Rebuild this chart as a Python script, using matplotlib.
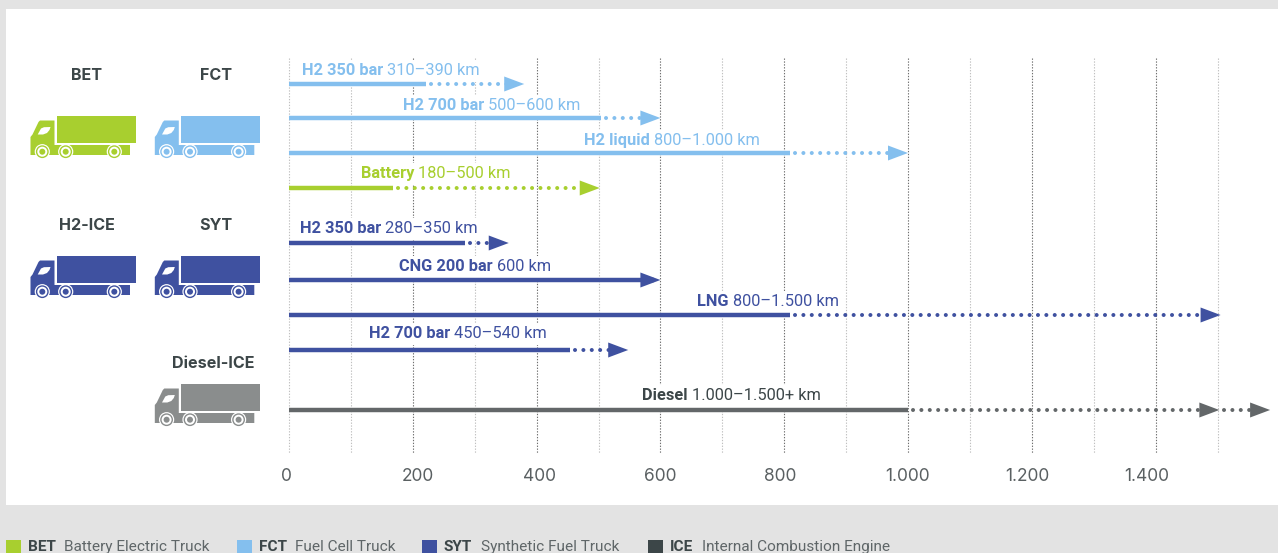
import matplotlib
matplotlib.use("Agg")
import matplotlib.pyplot as plt
from matplotlib.patches import Polygon, Circle, Rectangle

# Data (km)
row_bold = ['H2 350 bar', 'H2 700 bar', 'H2 liquid', 'Battery', 'H2 350 bar',
            'CNG 200 bar', 'LNG', 'H2 700 bar', 'Diesel']
row_range = ['310–390 km', '500–600 km', '800–1.000 km', '180–500 km', '280–350 km',
             '600 km', '800–1.500 km', '450–540 km', '1.000–1.500+ km']
solid_end = [222, 504, 810, 168, 284, 600, 810, 454, 1000]
arrow_end = [380, 600, 1000, 502, 355, 600, 1505, 548, 1503]
row_group = ['FCT', 'FCT', 'FCT', 'BET', 'SYT', 'SYT', 'SYT', 'SYT', 'ICE']
extra_arrow_end = 1585
tick_labels = ['0', '200', '400', '600', '800', '1.000', '1.200', '1.400']

# Layout in pixels of the reference
W, H = 1278, 553
X0 = 289
PX_PER_KM = 0.619
GRID_TOP, GRID_BOTTOM = 58, 453
row_y = [84, 118, 153, 188, 243, 280, 315, 350, 410]
label_x = [302, 403, 584, 361, 300, 399, 697, 369, 642]
label_y = [71, 106, 141, 174, 229, 267, 302, 334, 396]
tick_px = [286, 418, 540, 660, 780, 907, 1027, 1147]

colors = {'BET': '#a8cf2f', 'FCT': '#84bfee', 'SYT': '#3f51a0', 'ICE': '#636769'}
BG = '#e3e3e3'
TITLE_C = '#3c4648'
LEG_C = '#5f6668'
ROBOTO = ['Roboto', 'DejaVu Sans']
HEAD = ['Inter', 'DejaVu Sans']

fig = plt.figure(figsize=(W / 100, H / 100), dpi=100, facecolor=BG)

# pixel overlay for the panel, trucks and legend
bg = fig.add_axes([0, 0, 1, 1], zorder=0)
bg.set_xlim(0, W)
bg.set_ylim(H, 0)
bg.axis('off')
bg.add_patch(Rectangle((6, 9), W - 6, 496, fc='white', ec='none'))

ax = fig.add_axes([X0 / W, 1 - GRID_BOTTOM / H, (W - X0) / W, (GRID_BOTTOM - GRID_TOP) / H], zorder=1)
ax.patch.set_alpha(0)
ax.set_xlim(0, (W - X0) / PX_PER_KM)
ax.set_ylim(GRID_BOTTOM, GRID_TOP)
for s in ax.spines.values():
    s.set_visible(False)
ax.set_yticks([])
ax.set_xticks([])

# grid every 100 km, darker on the even hundreds
for km in range(0, 1600, 100):
    dark = km % 200 == 0 and 0 < km < 1500
    ax.plot([km, km], [GRID_TOP, GRID_BOTTOM], color='#6f6f6f' if dark else '#c0c0c0',
            lw=0.8, ls=(0, (1.2, 1.4)), zorder=1, clip_on=False)


def arrow_head(tip, y, color):
    length = 20 / PX_PER_KM
    ax.add_patch(Polygon([(tip - length, y - 7.5), (tip, y), (tip - length, y + 7.5)],
                         fc=color, ec='none', zorder=4, clip_on=False))


def dots(x1, x2, y, color):
    ax.plot([x1, x2], [y, y], color=color, lw=2.9, ls=(0, (0.01, 2.07)),
            dash_capstyle='round', zorder=3)


def px_to_km(px):
    return (px - X0) / PX_PER_KM


fig.canvas.draw()
renderer = fig.canvas.get_renderer()
white_box = dict(fc='white', ec='none', pad=2.5)

for i in range(len(row_bold)):
    c = colors[row_group[i]]
    y = row_y[i]
    tip = arrow_end[i]
    ax.plot([0, min(solid_end[i], tip - 10)], [y, y], color=c, lw=3.2, solid_capstyle='butt', zorder=3)
    if tip > solid_end[i]:
        dots(solid_end[i] + 8, tip - 15, y, c)
    arrow_head(tip, y, c)

    # labels mask the grid behind them, but stay under the lines
    text_c = TITLE_C if row_group[i] == 'ICE' else c
    t = ax.text(px_to_km(label_x[i]), label_y[i], row_bold[i], family=ROBOTO, weight='bold', fontsize=11.8,
                color=text_c, va='center', ha='left', zorder=2)
    end = t.get_window_extent(renderer).x1
    t.set_bbox(white_box)
    ax.text(px_to_km(end + 4), label_y[i], row_range[i], family=ROBOTO, fontsize=11.8, color=text_c,
            va='center', ha='left', zorder=2, bbox=white_box)

# second diesel arrow past the scale
dots(1503 + 8, extra_arrow_end - 15, row_y[-1], colors['ICE'])
arrow_head(extra_arrow_end, row_y[-1], colors['ICE'])

for px, lab in zip(tick_px, tick_labels):
    bg.text(px, 476.5, lab, family=HEAD, fontsize=12.5, color='#5a6062', ha='center', va='center')


def truck(dx, dy, color):
    # shape measured on the BET truck
    bg.add_patch(Rectangle((56.7 + dx, 116 + dy), 79.3, 27, fc=color, ec='none'))
    cab = [(30.5, 155), (30.5, 137), (32.5, 134.5), (38.5, 122), (40, 120.5), (54.5, 120.5),
           (54.5, 145), (130, 145), (130, 155)]
    bg.add_patch(Polygon([(x + dx, y + dy) for x, y in cab], fc=color, ec='none'))
    window = [(37.7, 134.5), (41, 128.5), (44, 127.2), (50.5, 127), (49.5, 130), (47, 133), (43, 134.5)]
    bg.add_patch(Polygon([(x + dx, y + dy) for x, y in window], fc='white', ec='none'))
    for wx in [42.3, 65.7, 114.3]:
        bg.add_patch(Circle((wx + dx, 151.7 + dy), 7.6, fc='white', ec='none'))
        bg.add_patch(Circle((wx + dx, 151.7 + dy), 6.4, fc=color, ec='none'))
        bg.add_patch(Circle((wx + dx, 151.7 + dy), 5.0, fc='white', ec='none'))
        bg.add_patch(Circle((wx + dx, 151.7 + dy), 3.0, fc=color, ec='none'))


truck(0, 0, '#a8cf2f')
truck(124.3, 0, '#84bfee')
truck(0, 140, '#3f51a0')
truck(124.3, 140, '#3f51a0')
truck(124.3, 268, '#8a8d8d')

for x, y, lab in [(87, 75, 'BET'), (216, 75, 'FCT'), (87, 225, 'H2-ICE'), (216, 225, 'SYT'), (213, 364, 'Diesel-ICE')]:
    bg.text(x, y, lab, family=HEAD, weight='bold', fontsize=11.6, color=TITLE_C, ha='center', va='center')

# legend, cut off by the bottom edge as in the source
legend_items = [('BET', 'Battery Electric Truck', colors['BET'], 6, 28, 64),
                ('FCT', 'Fuel Cell Truck', colors['FCT'], 237, 259, 295),
                ('SYT', 'Synthetic Fuel Truck', colors['SYT'], 422, 444, 481),
                ('ICE', 'Internal Combustion Engine', '#3c4648', 648, 670, 702)]
for code, name, c, sq, tb, tn in legend_items:
    bg.add_patch(Rectangle((sq, 540), 15, 14, fc=c, ec='none'))
    bg.text(tb, 547, code, family=ROBOTO, weight='bold', fontsize=11.1, color=TITLE_C, ha='left', va='center')
    bg.text(tn, 547, name, family=ROBOTO, fontsize=11.1, color=LEG_C, ha='left', va='center')

fig.savefig('out.png', dpi=100, facecolor=BG)
